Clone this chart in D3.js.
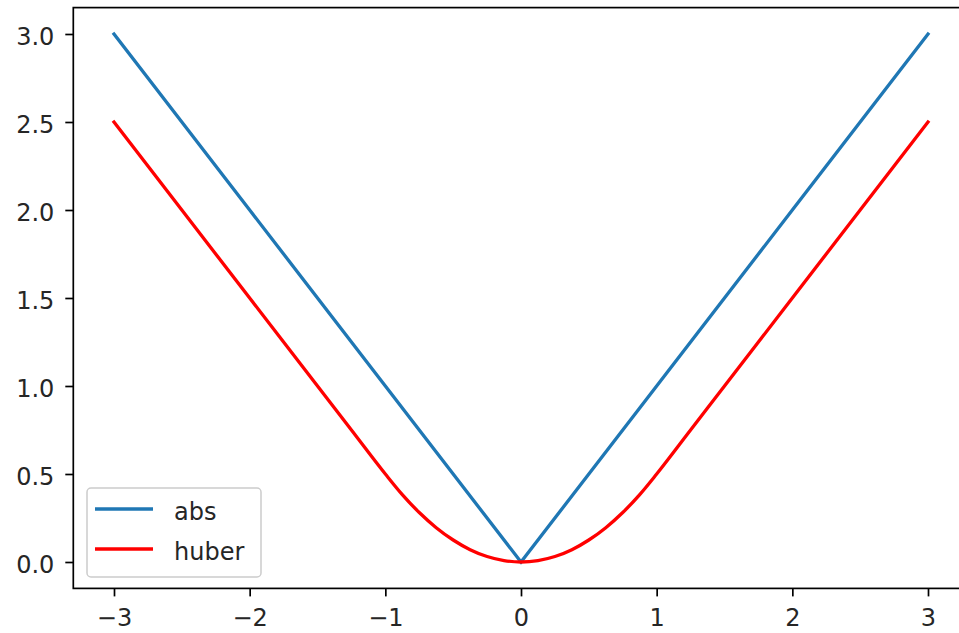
<!DOCTYPE html>
<html>
<head>
<meta charset="utf-8">
<script src="https://cdn.jsdelivr.net/npm/d3@7"></script>
<style>
  body { margin: 0; background: #fff; }
  text { font-family: "DejaVu Sans", sans-serif; fill: #262626; }
</style>
</head>
<body>
<script>
// values
let absX = [-3, -2, -1, 0, 1, 2, 3];
let absY = [3, 2, 1, 0, 1, 2, 3];

let huberX = [-3, -2.5, -2, -1.5, -1.25, -1, -0.875, -0.75, -0.625, -0.5, -0.375, -0.25, -0.125, 0,
              0.125, 0.25, 0.375, 0.5, 0.625, 0.75, 0.875, 1, 1.25, 1.5, 2, 2.5, 3];
let huberY = [2.5, 2.0, 1.5, 1.0, 0.75, 0.5, 0.383, 0.281, 0.195, 0.125, 0.07, 0.031, 0.008, 0,
              0.008, 0.031, 0.07, 0.125, 0.195, 0.281, 0.383, 0.5, 0.75, 1.0, 1.5, 2.0, 2.5];

let xTicks = [-3, -2, -1, 0, 1, 2, 3];
let yTicks = [0, 0.5, 1, 1.5, 2, 2.5, 3];

let seriesNames = ["abs", "huber"];
let seriesColors = ["#1f77b4", "#ff0000"];

function draw_chart(width = 959, height = 633) {
    let svg = d3.select("body").append("svg")
        .attr("width", width)
        .attr("height", height);

    let left = 73.3, right = 968.7, top = 7.6, bottom = 588.4;
    let fontSize = 24;

    let x = d3.scaleLinear().domain([-3.3, 3.3]).range([left, right]);
    let y = d3.scaleLinear().domain([-0.15, 3.15]).range([bottom, top]);

    let fmtX = d => d < 0 ? "\u2212" + Math.abs(d) : String(d);

    // x axis
    let xAxis = svg.append("g")
        .attr("transform", "translate(0," + bottom + ")")
        .call(d3.axisBottom(x).tickValues(xTicks).tickFormat(fmtX).tickSize(8).tickPadding(13).tickSizeOuter(0));
    xAxis.select(".domain").remove();
    xAxis.selectAll(".tick line").attr("stroke", "#000").attr("stroke-width", 1.7);
    xAxis.selectAll(".tick text").attr("font-size", fontSize).attr("dy", "0.71em").style("fill", "#262626");

    // y axis
    let yAxis = svg.append("g")
        .attr("transform", "translate(" + left + ",0)")
        .call(d3.axisLeft(y).tickValues(yTicks).tickFormat(d3.format(".1f")).tickSize(8).tickPadding(11).tickSizeOuter(0));
    yAxis.select(".domain").remove();
    yAxis.selectAll(".tick line").attr("stroke", "#000").attr("stroke-width", 1.7);
    yAxis.selectAll(".tick text").attr("font-size", fontSize).attr("dy", "0.45em").style("fill", "#262626");

    // spines
    svg.append("rect")
        .attr("x", left).attr("y", top)
        .attr("width", right - left).attr("height", bottom - top)
        .attr("fill", "none")
        .attr("stroke", "#000").attr("stroke-width", 1.7);

    let plot = svg.append("g");
    let line = d3.line().x(d => x(d[0])).y(d => y(d[1]));

    plot.append("path")
        .datum(absX.map((v, i) => [v, absY[i]]))
        .attr("d", line)
        .attr("fill", "none")
        .attr("stroke", seriesColors[0])
        .attr("stroke-width", 3.3)
        .attr("stroke-linecap", "square");

    plot.append("path")
        .datum(huberX.map((v, i) => [v, huberY[i]]))
        .attr("d", line.curve(d3.curveMonotoneX))
        .attr("fill", "none")
        .attr("stroke", seriesColors[1])
        .attr("stroke-width", 3.3)
        .attr("stroke-linecap", "square");

    // legend
    let legend = svg.append("g");
    legend.append("rect")
        .attr("x", 87).attr("y", 488)
        .attr("width", 174).attr("height", 89)
        .attr("rx", 4)
        .attr("fill", "#fff").attr("fill-opacity", 0.8)
        .attr("stroke", "#cccccc").attr("stroke-width", 1.5);

    seriesNames.forEach((name, i) => {
        let ly = 509 + i * 40;
        legend.append("line")
            .attr("x1", 95).attr("x2", 153)
            .attr("y1", ly).attr("y2", ly)
            .attr("stroke", seriesColors[i])
            .attr("stroke-width", 3.3);
        legend.append("text")
            .attr("x", 174).attr("y", ly)
            .attr("dy", "0.45em")
            .attr("font-size", fontSize)
            .text(name);
    });
}

draw_chart();
</script>
</body>
</html>
